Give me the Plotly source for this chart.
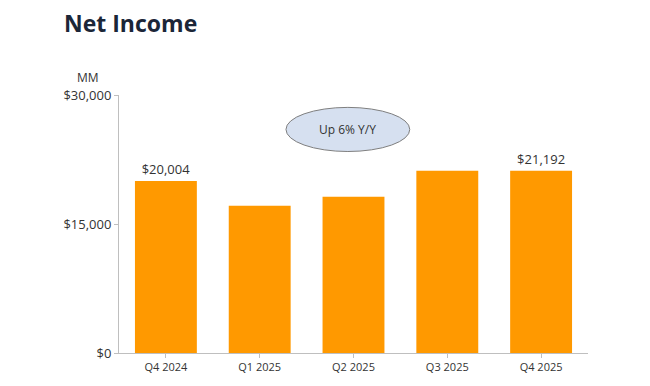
import plotly.graph_objects as go

quarters = ["Q4 2024", "Q1 2025", "Q2 2025", "Q3 2025", "Q4 2025"]
net_income = [20004, 17127, 18164, 21187, 21192]
bar_labels = ["$20,004", "", "", "", "$21,192"]
y_ticks = [0, 15000, 30000]
y_tick_labels = ["$0", "$15,000", "$30,000"]

fig = go.Figure()
fig.add_trace(go.Bar(
    x=quarters, y=net_income,
    marker=dict(color="#FF9900", line=dict(width=0)),
    text=bar_labels, textposition="outside", cliponaxis=False,
    textfont=dict(family="Open Sans", size=13, color="#333333"),
    width=0.66,
))

fig.update_layout(
    width=642, height=378,
    margin=dict(l=111, r=62, t=87, b=31),
    plot_bgcolor="white", paper_bgcolor="white",
    showlegend=False,
    font=dict(family="Open Sans", size=12, color="#333333"),
    xaxis=dict(
        showline=True, linecolor="#bfbfbf", linewidth=1,
        ticks="outside", ticklen=4, tickcolor="#bfbfbf",
        tickfont=dict(size=11, color="#333333"),
        range=[-0.5, 4.5], showgrid=False,
    ),
    yaxis=dict(
        range=[0, 30000], tickvals=y_ticks, ticktext=y_tick_labels,
        showline=True, linecolor="#bfbfbf", linewidth=1,
        ticks="outside", ticklen=4, tickcolor="#bfbfbf",
        tickfont=dict(size=13, color="#333333"),
        showgrid=False, zeroline=False,
    ),
    shapes=[dict(
        type="circle", xref="paper", yref="paper",
        x0=0.356, x1=0.620, y0=0.781, y1=0.952,
        fillcolor="#d6e0f0", line=dict(color="#7f7f7f", width=1),
    )],
    annotations=[
        dict(text="<b>Net Income</b>", xref="paper", yref="paper",
             x=-0.1215, y=1.28, xanchor="left", yanchor="middle",
             showarrow=False, font=dict(size=23, color="#1b2638", family="Open Sans")),
        dict(text="MM", xref="paper", yref="paper",
             x=-0.066, y=1.069, xanchor="center", yanchor="middle",
             showarrow=False, font=dict(size=12, color="#333333")),
        dict(text="Up 6% Y/Y", xref="paper", yref="paper",
             x=0.488, y=0.866, xanchor="center", yanchor="middle",
             showarrow=False, font=dict(size=12, color="#333333")),
    ],
)

fig.write_html("out.html")
